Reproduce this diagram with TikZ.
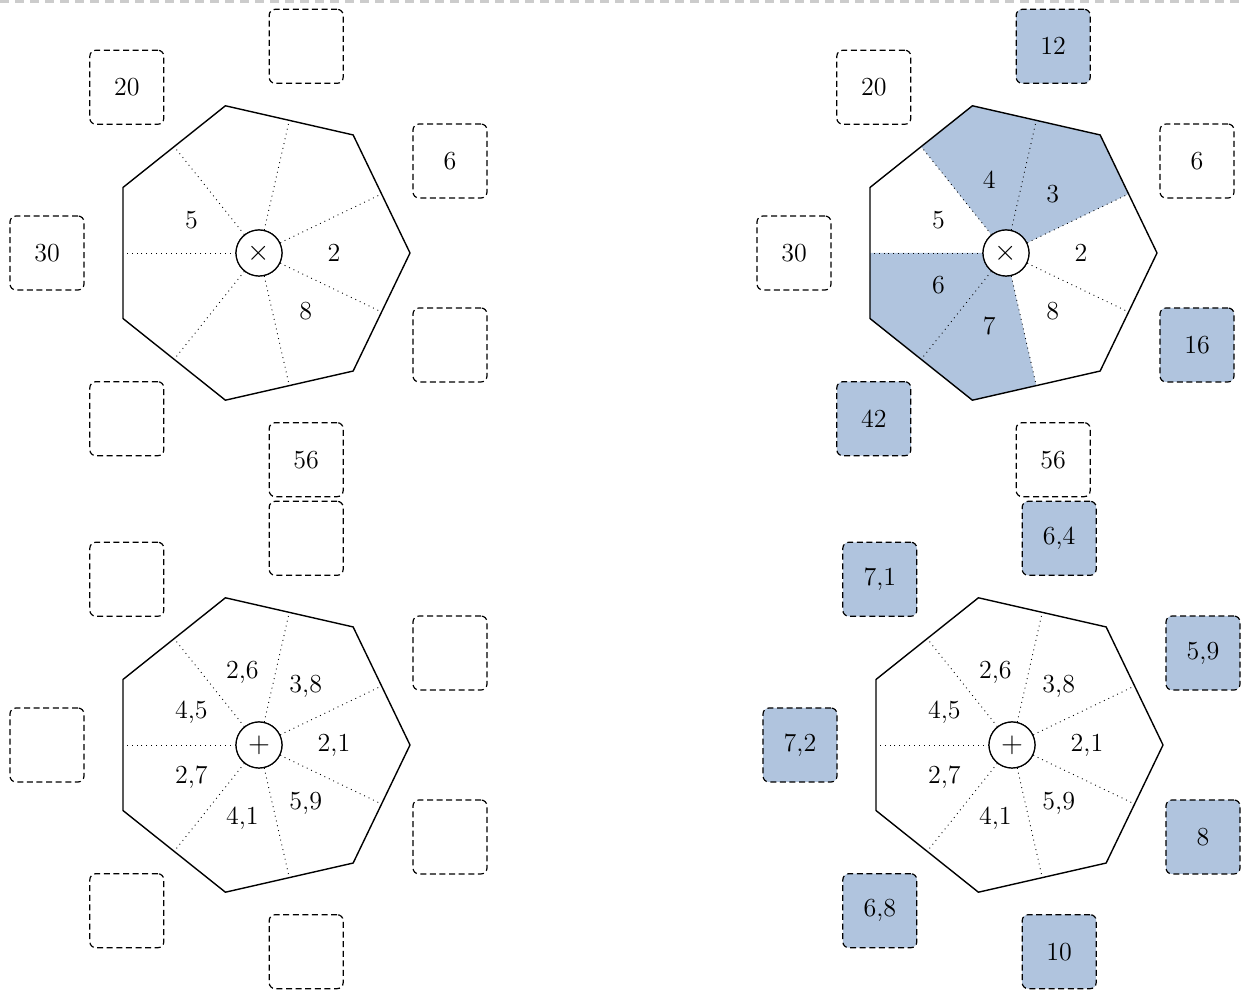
\documentclass[tikz,border=0pt]{standalone}
\definecolor{hl}{HTML}{B0C4DE}
\tikzset{
  heptline/.style={line width=0.7pt, line join=round},
  spoke/.style={dotted, line width=0.45pt},
  hub/.style={circle, draw, line width=0.6pt, fill=white, minimum size=23pt, inner sep=0pt, font=\fontsize{15}{17}\selectfont},
  val/.style={font=\fontsize{13}{15}\selectfont, inner sep=1pt},
  slot/.style={draw, dash pattern=on 3pt off 1.8pt, line width=0.6pt, rounded corners=3pt, minimum size=37pt, inner sep=0pt, font=\fontsize{13}{15}\selectfont},
  slotfill/.style={slot, fill=hl},
}
\newcommand\heptbase[2]{%
  \draw[heptline] (0:151) \foreach \k in {1,...,6}{ -- ({\k*360/7}:151) } -- cycle;
  \foreach \k in {0,...,6}{ \coordinate (#1m\k) at ({\k*360/7+180/7}:136); }
  \node[hub] (#1c) at (0,0) {$#2$};
  \foreach \k in {0,...,6}{ \draw[spoke] (#1c) -- (#1m\k); }
  \node[hub] at (0,0) {$#2$};
}
\begin{document}
\begin{tikzpicture}[x=0.5pt,y=0.5pt]
\useasboundingbox (0,0) rectangle (1242,990);
\coordinate (topL) at (0,988.5);
\coordinate (topR) at (1242,988.5);
\draw[gray!40, line width=1.1pt, dash pattern=on 4.5pt off 3pt] (topL) -- (topR);

% ---------- top left ----------
\begin{scope}[shift={(259,737)}]
  \heptbase{TL}{\times}
  \foreach \k/\t in {0/2,3/5,6/8}{ \node[val] (TLl\k) at ({\k*360/7}:75) {\t}; }
  \node[slot] (TLb0) at ({0*360/7+180/7}:212) {6};
  \node[slot] (TLb1) at ({1*360/7+180/7}:212) {};
  \node[slot] (TLb2) at ({2*360/7+180/7}:212) {20};
  \node[slot] (TLb3) at ({3*360/7+180/7}:212) {30};
  \node[slot] (TLb4) at ({4*360/7+180/7}:212) {};
  \node[slot] (TLb5) at ({5*360/7+180/7}:212) {56};
  \node[slot] (TLb6) at ({6*360/7+180/7}:212) {};
\end{scope}

% ---------- top right ----------
\begin{scope}[shift={(1006,737)}]
  \fill[hl] (0,0) -- ({180/7}:136) -- ({360/7}:151) -- ({720/7}:151) -- ({900/7}:136) -- cycle;
  \fill[hl] (0,0) -- (180:136) -- ({1440/7}:151) -- ({1800/7}:151) -- ({1980/7}:136) -- cycle;
  \heptbase{TR}{\times}
  \foreach \k/\t in {0/2,1/3,2/4,3/5,4/6,5/7,6/8}{ \node[val] (TRl\k) at ({\k*360/7}:75) {\t}; }
  \node[slot]     (TRb0) at ({0*360/7+180/7}:212) {6};
  \node[slotfill] (TRb1) at ({1*360/7+180/7}:212) {12};
  \node[slot]     (TRb2) at ({2*360/7+180/7}:212) {20};
  \node[slot]     (TRb3) at ({3*360/7+180/7}:212) {30};
  \node[slotfill] (TRb4) at ({4*360/7+180/7}:212) {42};
  \node[slot]     (TRb5) at ({5*360/7+180/7}:212) {56};
  \node[slotfill] (TRb6) at ({6*360/7+180/7}:212) {16};
\end{scope}

% ---------- bottom left ----------
\begin{scope}[shift={(259,245)}]
  \heptbase{BL}{+}
  \foreach \k/\t in {0/{2,1},1/{3,8},2/{2,6},3/{4,5},4/{2,7},5/{4,1},6/{5,9}}{ \node[val] (BLl\k) at ({\k*360/7}:75) {\t}; }
  \foreach \k in {0,...,6}{ \node[slot] (BLb\k) at ({\k*360/7+180/7}:212) {}; }
\end{scope}

% ---------- bottom right ----------
\begin{scope}[shift={(1012,245)}]
  \heptbase{BR}{+}
  \foreach \k/\t in {0/{2,1},1/{3,8},2/{2,6},3/{4,5},4/{2,7},5/{4,1},6/{5,9}}{ \node[val] (BRl\k) at ({\k*360/7}:75) {\t}; }
  \node[slotfill] (BRb0) at ({0*360/7+180/7}:212) {5,9};
  \node[slotfill] (BRb1) at ({1*360/7+180/7}:212) {6,4};
  \node[slotfill] (BRb2) at ({2*360/7+180/7}:212) {7,1};
  \node[slotfill] (BRb3) at ({3*360/7+180/7}:212) {7,2};
  \node[slotfill] (BRb4) at ({4*360/7+180/7}:212) {6,8};
  \node[slotfill] (BRb5) at ({5*360/7+180/7}:212) {10};
  \node[slotfill] (BRb6) at ({6*360/7+180/7}:212) {8};
\end{scope}
\end{tikzpicture}
\end{document}
